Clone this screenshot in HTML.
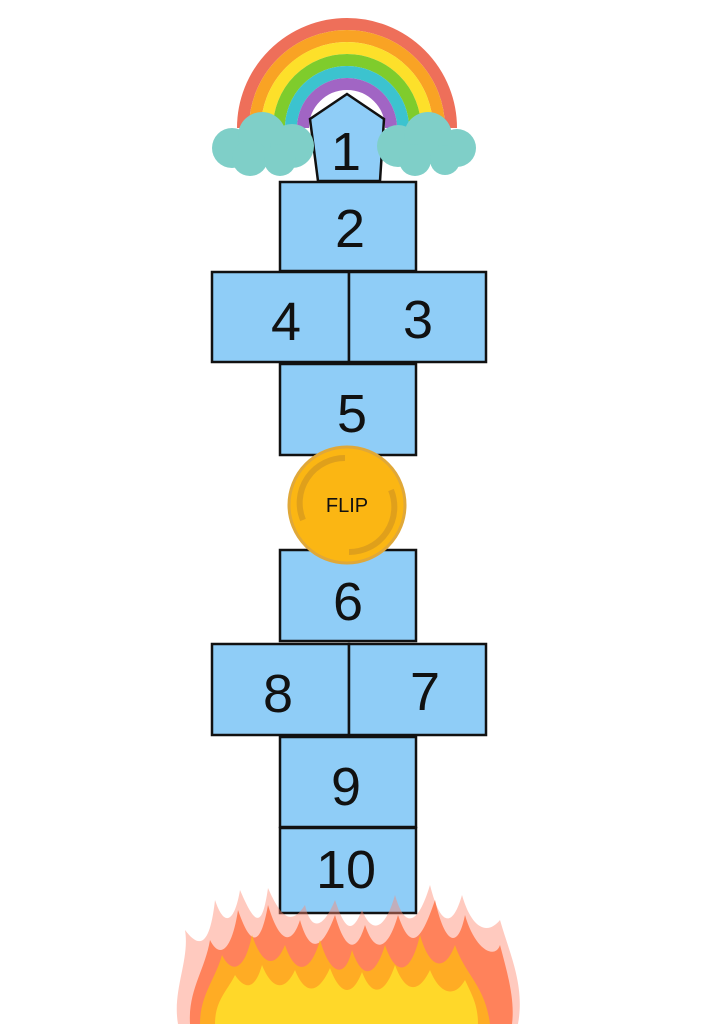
<!DOCTYPE html>
<html><head><style>
html,body{margin:0;padding:0;background:#fff;}
body{width:724px;height:1024px;overflow:hidden;position:relative;}
</style></head><body>
<svg width="724" height="1024" viewBox="0 0 724 1024" xmlns="http://www.w3.org/2000/svg">
<!-- rainbow -->
<g fill="none" stroke-width="12">
<path d="M243 128 A104 104 0 0 1 451 128" stroke="#ee6f5a"/>
<path d="M255 128 A92 92 0 0 1 439 128" stroke="#f9a324"/>
<path d="M267 128 A80 80 0 0 1 427 128" stroke="#fde02a"/>
<path d="M279 128 A68 68 0 0 1 415 128" stroke="#7fcc2c"/>
<path d="M291 128 A56 56 0 0 1 403 128" stroke="#3cc3cf"/>
<path d="M303 128 A44 44 0 0 1 391 128" stroke="#a165c4"/>
</g>
<path d="M347 94 L384 119 L380 181 L318 181 L310 119 Z" fill="#8fcdf7" stroke="#111" stroke-width="2.5"/>
<g fill="#7fcfc8">
<circle cx="232" cy="148" r="20"/><circle cx="262" cy="136" r="24"/><circle cx="292" cy="146" r="22"/><circle cx="250" cy="158" r="18"/><circle cx="280" cy="160" r="16"/>
<circle cx="398" cy="146" r="21"/><circle cx="428" cy="136" r="24"/><circle cx="457" cy="148" r="19"/><circle cx="415" cy="160" r="16"/><circle cx="445" cy="160" r="15"/>
</g>
<g fill="#8fcdf7" stroke="#111" stroke-width="2.5">
<rect x="280" y="182" width="136" height="89"/>
<rect x="212" y="272" width="137" height="90"/>
<rect x="349" y="272" width="137" height="90"/>
<rect x="280" y="364" width="136" height="91"/>
<rect x="280" y="550" width="136" height="91"/>
<rect x="212" y="644" width="137" height="91"/>
<rect x="349" y="644" width="137" height="91"/>
<rect x="280" y="737" width="136" height="90"/>
<rect x="280" y="828" width="136" height="85"/>
</g>
<circle cx="347" cy="505" r="58" fill="#fbb613" stroke="#e0a838" stroke-width="3"/>
<g fill="none" stroke="#d99b1e" stroke-width="6" opacity="0.8">
<path d="M303 520 A45 45 0 0 1 345 458"/>
<path d="M391 490 A45 45 0 0 1 349 552"/>
</g>
<g font-family="Liberation Sans, sans-serif" text-anchor="middle" fill="#111">
<text x="347" y="512" font-size="20">FLIP</text>
<g font-size="54">
<text x="346" y="170">1</text>
<text x="350" y="247">2</text>
<text x="286" y="340">4</text>
<text x="418" y="338">3</text>
<text x="352" y="432">5</text>
<text x="348" y="620">6</text>
<text x="278" y="712">8</text>
<text x="425" y="710">7</text>
<text x="346" y="805">9</text>
<text x="346" y="888">10</text>
</g>
</g>
<!-- flames -->
<g fill="#ff8a70" opacity="0.45">
<path d="M178 1024 C172 990 190 960 185 930 C200 950 210 945 215 900 C225 930 235 920 240 890 C255 925 262 930 268 888 C282 920 292 925 305 905 C312 935 325 925 335 900 C345 930 352 935 362 910 C372 935 385 930 395 895 C405 930 418 925 430 885 C440 925 452 930 462 895 C472 930 488 935 500 920 C510 955 525 985 518 1024 Z"/>
</g>
<g fill="#ff6a3a" opacity="0.75">
<path d="M190 1024 C188 990 205 970 210 940 C220 960 232 950 238 910 C250 945 260 950 268 905 C280 945 292 945 300 920 C310 955 322 950 335 915 C345 950 356 955 365 925 C375 955 388 950 398 915 C410 950 420 945 435 900 C445 945 458 950 465 915 C475 950 495 960 500 945 C508 975 515 1000 512 1024 Z"/>
</g>
<g fill="#ffb01e" opacity="0.9">
<path d="M200 1024 C200 995 215 980 222 955 C232 975 245 970 252 935 C262 965 275 970 285 945 C295 975 310 975 320 940 C330 975 345 980 352 950 C362 980 375 978 385 945 C395 975 410 978 420 935 C430 970 445 972 455 945 C465 975 485 985 490 1024 Z"/>
</g>
<g fill="#ffdf2a" opacity="0.85">
<path d="M215 1024 C215 1000 228 990 235 975 C245 990 255 990 262 965 C272 990 285 992 295 970 C305 995 318 995 330 968 C340 995 352 998 362 972 C372 998 385 995 395 965 C405 992 418 995 430 970 C440 995 455 998 465 980 C472 995 478 1005 478 1024 Z"/>
</g>
</svg>
</body></html>
